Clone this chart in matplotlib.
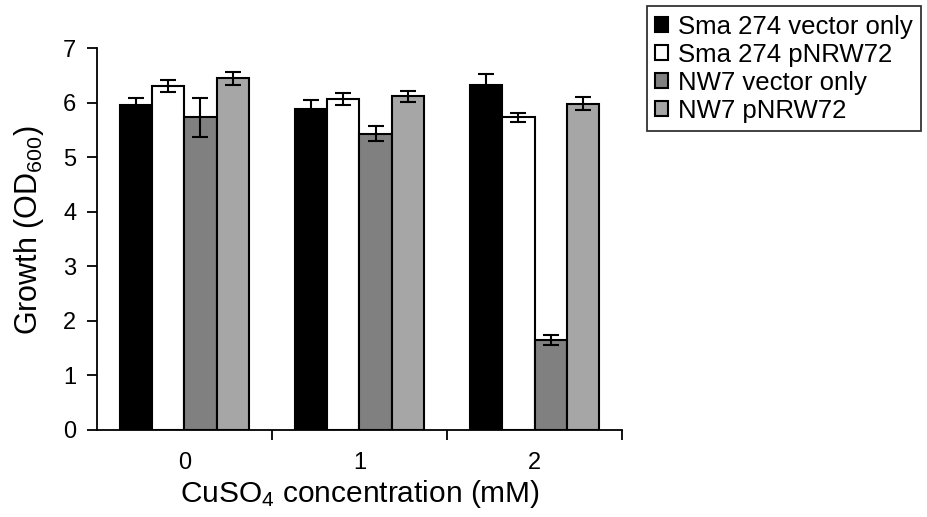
import numpy as np
import matplotlib
matplotlib.use('Agg')
import matplotlib.pyplot as plt

plt.rcParams.update({
    'font.family': ['Liberation Sans', 'DejaVu Sans'],
    'font.size': 16,
    'mathtext.default': 'regular',
})

# data
conc = ['0', '1', '2']
series = ['Sma 274 vector only', 'Sma 274 pNRW72', 'NW7 vector only', 'NW7 pNRW72']
sma_vec = [5.95, 5.88, 6.32]
sma_vec_err = [0.14, 0.17, 0.21]
sma_p = [6.30, 6.06, 5.73]
sma_p_err = [0.11, 0.11, 0.08]
nw7_vec = [5.73, 5.43, 1.65]
nw7_vec_err = [0.36, 0.14, 0.09]
nw7_p = [6.45, 6.12, 5.98]
nw7_p_err = [0.12, 0.10, 0.12]

values = [sma_vec, sma_p, nw7_vec, nw7_p]
errors = [sma_vec_err, sma_p_err, nw7_vec_err, nw7_p_err]
colors = ['#000000', '#ffffff', '#808080', '#a6a6a6']

fig = plt.figure(figsize=(9.27, 5.17), dpi=100)
ax = fig.add_axes([0.1046, 0.1683, 0.5664, 0.7387])

x = np.arange(len(conc))
w = 0.183
for i, (vals, errs, col, lbl) in enumerate(zip(values, errors, colors, series)):
    ax.bar(x + (i - 1.5) * w, vals, w, yerr=errs, color=col, edgecolor='black',
           linewidth=1.5, label=lbl, capsize=6,
           error_kw={'elinewidth': 1.5, 'capthick': 1.5, 'ecolor': 'black'})

ax.set_xlim(-0.5, 2.5)
ax.set_ylim(0, 7)
ax.set_yticks(range(0, 8))
ax.set_xticks(x)
ax.set_xticklabels(conc)
ax.set_xticks([0.5, 1.5, 2.5], minor=True)
ax.tick_params(axis='x', which='major', length=0, pad=16, labelsize=17)
ax.tick_params(axis='x', which='minor', length=7, width=1.3, direction='out')
ax.tick_params(axis='y', length=7, width=1.3, direction='out', pad=8, labelsize=17)
for s in ['top', 'right']:
    ax.spines[s].set_visible(False)
for s in ['left', 'bottom']:
    ax.spines[s].set_linewidth(1.3)

ax.set_ylabel('Growth (OD$_{600}$)', fontsize=22)
ax.yaxis.set_label_coords(-0.098, 0.524)
ax.set_xlabel('CuSO$_4$ concentration (mM)', fontsize=21.5, labelpad=3)

leg = fig.legend(loc='upper right', bbox_to_anchor=(0.994, 0.988), frameon=True,
                 fancybox=False, edgecolor='black', fontsize=18.5,
                 handlelength=0.52, handleheight=0.52, handletextpad=0.38,
                 labelspacing=0.16, borderpad=0.33, borderaxespad=0)
leg.get_frame().set_linewidth(1.3)

plt.savefig('out.png', dpi=100)
